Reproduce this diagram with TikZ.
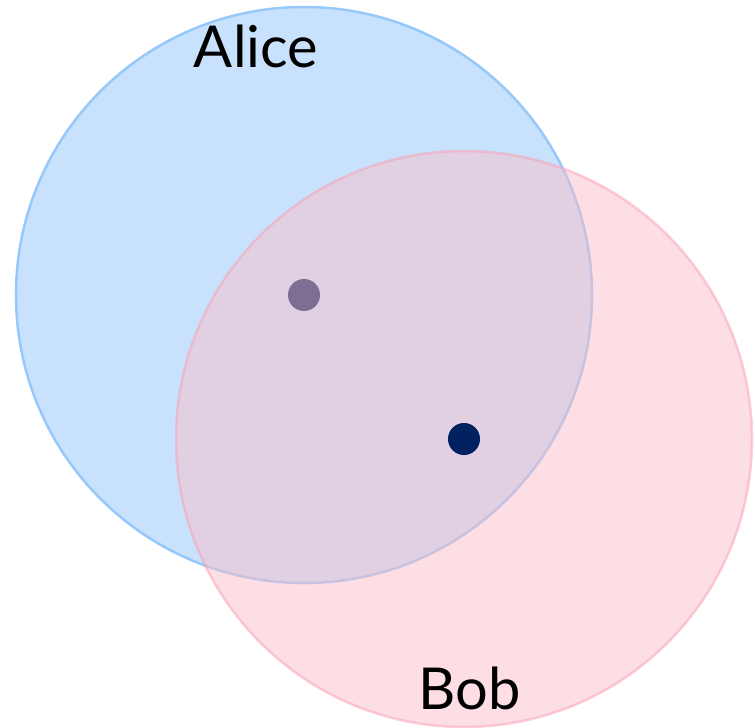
\documentclass[tikz,border=0pt]{standalone}
\usepackage{fontspec}
\setmainfont{Lato}
\definecolor{alicefill}{RGB}{200,226,253}
\definecolor{alicedraw}{RGB}{150,200,250}
\definecolor{bobfill}{RGB}{251,189,201}
\definecolor{bobdraw}{RGB}{250,160,180}
\definecolor{dotnavy}{RGB}{0,32,96}
\tikzset{
  setcircle/.style={circle, minimum size=576bp, inner sep=0pt, line width=2.5bp},
  dotnode/.style={circle, fill=dotnavy, minimum size=32bp, inner sep=0pt},
  namelabel/.style={anchor=base, inner sep=0pt, font=\fontsize{58}{64}\selectfont}
}
\begin{document}
\begin{tikzpicture}[x=1bp,y=-1bp]
\useasboundingbox (0,0) rectangle (755,728);
\node[setcircle, fill=alicefill, draw=alicedraw] (alice) at (304,295) {};
\node[dotnode] (d1) at (304,295) {};
\node[setcircle, fill=bobfill, draw=bobdraw, opacity=0.5] (bob) at (464,439) {};
\node[dotnode] (d2) at (464,439) {};
\node[namelabel] (alicelabel) at (256,68) {Alice};
\node[namelabel] (boblabel) at (470,709) {Bob};
\end{tikzpicture}
\end{document}
